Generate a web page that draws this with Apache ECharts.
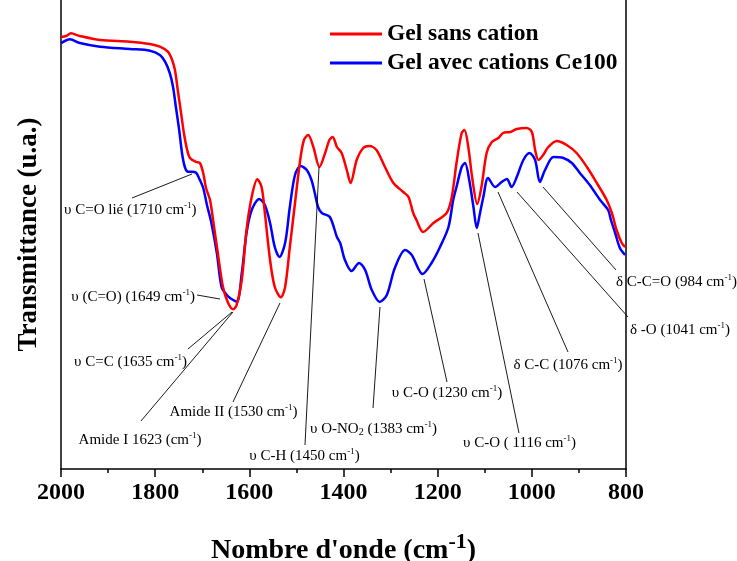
<!DOCTYPE html>
<html><head><meta charset="utf-8">
<script src="https://cdn.jsdelivr.net/npm/echarts@6/dist/echarts.min.js"></script>
<style>html,body{margin:0;padding:0;background:#fff}#c{width:737px;height:561px}</style>
</head><body><div id="c"></div>
<script>
// ---- data (transmittance in arbitrary units) ----
const seriesNames = ['Gel sans cation', 'Gel avec cations Ce100'];
const redWn = [2000,1989,1979,1960,1917,1854,1811,1790,1773,1764,1758,1752,1745,1739,1732,1726,1713,1705,1698,1692,1683.5,1677,1667,1656,1645,1634,1627,1616,1606,1595,1583,1574,1567,1556,1546,1533,1524,1514,1503,1492,1484,1475,1464,1451,1439,1430,1423,1414,1404,1393,1385,1372,1358,1345,1330,1312,1294,1273,1262,1252,1245,1231,1209,1181,1170,1160,1149,1143,1135,1126,1116,1107,1096,1085,1071,1061,1046,1032,1011,1000,993,986,976,965,947,926,905,883,862,841,830,820,809,802];
const redT  = [432,433,435.7,433,429,427.3,425,422.3,417.3,409,399,379,356,336,319,311,307,306,296,281,269,249,216,182,166,159.7,164,189,239,272,289.7,282,256,209,182,171.7,182,222,266,309,329,334,322,302,316,329,332,322,316,299,286,309,321,323,319,302,286,277,272,256,249,237,246,256,272,306,336,339,322,289,265,282,316,327,331,336,337,340,341,337,319,309,314,322,328,324,316,302,286,269,256,239,226,222];
const blueWn = [2000,1981,1960,1917,1854,1811,1790,1779,1769,1762,1756,1749,1743,1737,1730,1722,1713,1707,1698,1690,1681,1669,1659,1648,1641,1634,1626,1616,1606,1595,1579,1567,1556,1546,1536,1524,1514,1503,1491,1478,1468,1461,1454,1446,1429,1414,1407,1397,1383,1367,1354,1340,1323,1308,1291,1269,1255,1232,1213,1195,1177,1167,1160,1149,1142,1133,1124,1117,1110,1103,1093,1078,1064,1053,1043,1032,1018,1005,993,983,972,954,933,915,898,877,855,838,832,823,813,802];
const blueT  = [425.7,429.7,426,422.3,420,418.3,414,407.3,396,382,362,339,316,302,297.3,297.3,296.3,291,281,264,247,216,182,174,171,169,167,196,236,259,270,264,246,222,212,226,262,294,303,299,289,276,262,256,252,232,226,209,198,206,199,179,167,174,201,219,214,195,206,222,242,269,282,302,306,289,262,241,256,272,291,282,287,290,282,292,309,316,309,287,299,312,311,306,296,284,269,259,249,236,221,214];
const xTickInterval = 200;

// ---- band annotations: text, text anchor (wavenumber, T), leader line start and end (wavenumber, T) ----
const annotTexts = [
  '{a|υ C=O lié (1710 cm}{s|-1}{a|)}',
  '{a|υ (C=O) (1649 cm}{s|-1}{a|)}',
  '{a|υ C=C (1635 cm}{s|-1}{a|)}',
  '{a|Amide I 1623 (cm}{s|-1}{a|)}',
  '{a|Amide II (1530 cm}{s|-1}{a|)}',
  '{a|υ C-H (1450 cm}{s|-1}{a|)}',
  '{a|υ O-NO}{b|2}{a| (1383 cm}{s|-1}{a|)}',
  '{a|υ C-O (1230 cm}{s|-1}{a|)}',
  '{a|υ C-O ( 1116 cm}{s|-1}{a|)}',
  '{a|δ C-C (1076 cm}{s|-1}{a|)}',
  '{a|δ -O (1041 cm}{s|-1}{a|)}',
  '{a|δ C-C=O (984 cm}{s|-1}{a|)}'
];
const annotAnchor = [[1993.6,259],[1715.4,172],[1732.4,107],[1832.2,29],[1633.6,57],[1482.8,13],[1336.3,40],[1180.2,76],[1026.2,26],[923.2,104],[791.5,139],[821.2,187]];
const annotAlign = ['left','right','right','center','center','center','center','center','center','center','left','left'];
const lineFrom = [[1849.2,271],[1711.1,174],[1730.3,120],[1830.1,48],[1634.7,67],[1481.8,24],[1337.3,61],[1180.2,87],[1027.3,36],[923.2,117],[795.7,152],[821.2,199]];
const lineTo   = [[1721.8,295],[1662.3,170],[1636.8,157],[1634.7,157],[1534.9,166],[1452.0,302],[1322.5,162],[1229.0,190],[1114.4,236],[1071.8,277],[1031.5,277],[976.3,282]];

const FONT = '"Liberation Serif","Times New Roman",serif';
const zip = (xs, ys) => xs.map((x, i) => [x, ys[i]]);

const chart = echarts.init(document.getElementById('c'), null, {renderer: 'canvas'});
chart.setOption({
  animation: false,
  backgroundColor: '#fff',
  grid: {left: 61, right: 111, top: 0, bottom: 92, containLabel: false, outerBoundsMode: 'none'},
  legend: {
    orient: 'vertical', left: 325, top: 17, itemWidth: 52, itemHeight: 3, itemGap: 5,
    icon: 'rect',
    textStyle: {fontFamily: FONT, fontWeight: 'bold', fontSize: 23.5, color: '#000'},
    data: seriesNames
  },
  xAxis: {
    type: 'value', inverse: true, min: 800, max: 2000, interval: xTickInterval,
    axisLine: {lineStyle: {color: '#000', width: 1.5}},
    axisTick: {show: true, inside: false, length: 8, lineStyle: {color: '#000', width: 1.5}},
    minorTick: {show: true, splitNumber: 2, length: 4, lineStyle: {color: '#000', width: 1.5}},
    splitLine: {show: false},
    axisLabel: {fontFamily: FONT, fontWeight: 'bold', fontSize: 24, color: '#000', margin: 12,
      formatter: v => String(v)},
    name: "{t|Nombre d'onde (cm}{s|-1}{t|)}",
    nameLocation: 'middle', nameGap: 62,
    nameTextStyle: {
      rich: {
        t: {fontFamily: FONT, fontWeight: 'bold', fontSize: 28, color: '#000', lineHeight: 34, verticalAlign: 'bottom'},
        s: {fontFamily: FONT, fontWeight: 'bold', fontSize: 22, color: '#000', lineHeight: 34, verticalAlign: 'top'}
      }
    }
  },
  yAxis: [{
    type: 'value', min: 0, max: 469, position: 'left',
    axisLine: {show: true, lineStyle: {color: '#000', width: 1.5}},
    axisTick: {show: false}, axisLabel: {show: false}, splitLine: {show: false},
    name: 'Transmittance (u.a.)', nameLocation: 'middle', nameGap: 18, nameRotate: 90,
    nameTextStyle: {fontFamily: FONT, fontWeight: 'bold', fontSize: 27, color: '#000'}
  }, {
    type: 'value', min: 0, max: 469, position: 'right',
    axisLine: {show: true, lineStyle: {color: '#000', width: 1.5}},
    axisTick: {show: false}, axisLabel: {show: false}, splitLine: {show: false}
  }],
  series: [
    {name: seriesNames[0], type: 'line', data: zip(redWn, redT), smooth: 0.3, symbol: 'none',
     lineStyle: {color: '#ff0000', width: 2.5}, itemStyle: {color: '#ff0000'}, z: 3},
    {name: seriesNames[1], type: 'line', data: zip(blueWn, blueT), smooth: 0.3, symbol: 'none',
     lineStyle: {color: '#0000ff', width: 2.5}, itemStyle: {color: '#0000ff'}, z: 2}
  ]
});

const px = p => chart.convertToPixel({gridIndex: 0}, p);
const rich = {
  a: {fontFamily: FONT, fontSize: 15, color: '#000', lineHeight: 17, verticalAlign: 'middle'},
  s: {fontFamily: FONT, fontSize: 9, color: '#000', lineHeight: 17, verticalAlign: 'top'},
  b: {fontFamily: FONT, fontSize: 10, color: '#000', lineHeight: 17, verticalAlign: 'bottom'}
};
const graphics = [];
annotTexts.forEach((t, i) => {
  const a = px(lineFrom[i]), b = px(lineTo[i]), c = px(annotAnchor[i]);
  graphics.push({type: 'line', silent: true, z: 10,
    shape: {x1: a[0], y1: a[1], x2: b[0], y2: b[1]},
    style: {stroke: '#000', lineWidth: 0.9}});
  graphics.push({type: 'text', silent: true, z: 10,
    style: {text: t, rich: rich, x: c[0], y: c[1], align: annotAlign[i], verticalAlign: 'middle',
      font: '15px ' + FONT, fill: '#000'}});
});
chart.setOption({graphic: graphics});
</script>
</body></html>
